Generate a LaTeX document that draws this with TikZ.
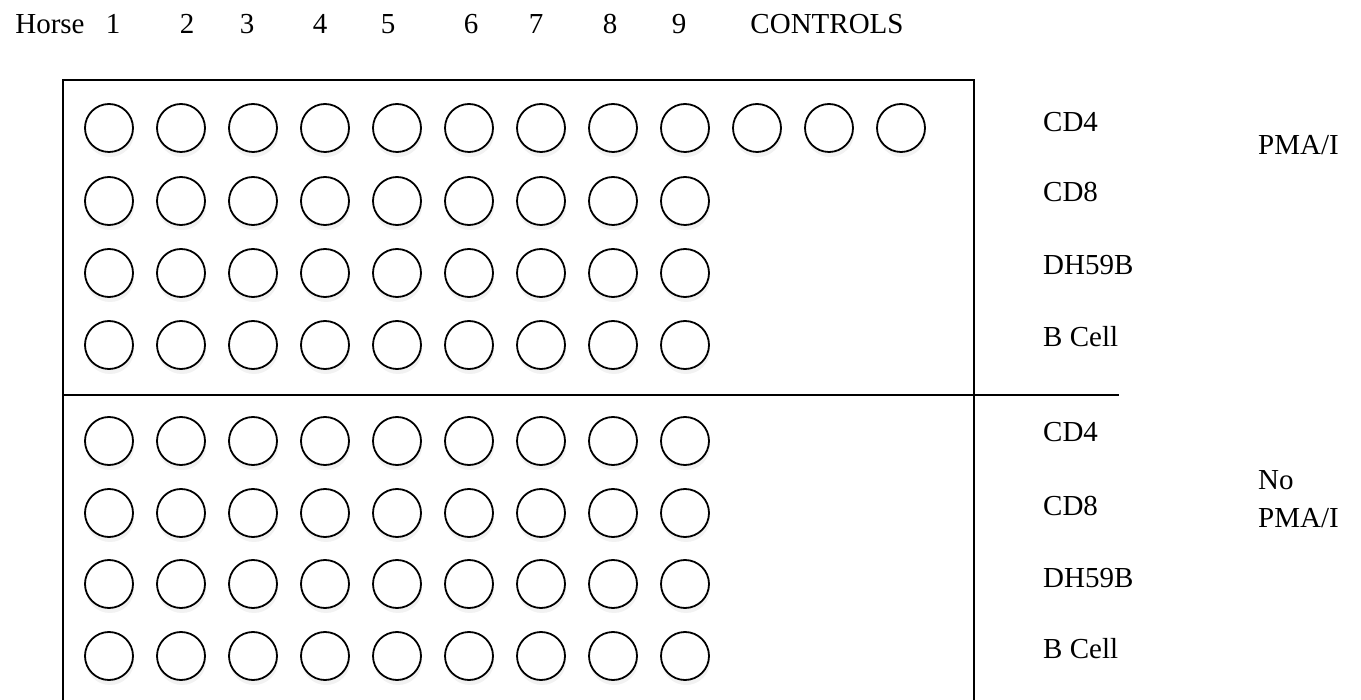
\documentclass[tikz,border=0pt]{standalone}
\usepackage{fontspec}
\setmainfont{Liberation Serif}
\usetikzlibrary{shadows}

\begin{document}
\begin{tikzpicture}[
  x=1pt, y=-1pt,
  font=\fontsize{29}{34}\selectfont,
  well/.style={
    circle,
    draw=black,
    line width=1.8pt,
    fill=white,
    minimum size=48pt,
    inner sep=0pt,
    drop shadow={shadow xshift=1pt, shadow yshift=-5pt, opacity=0.1}
  },
  head/.style={anchor=base, inner sep=0pt},
  lab/.style={anchor=base west, inner sep=0pt},
  plate/.style={line width=1.9pt, draw=black}
]
\clip (0,0) rectangle (1361,700);
\fill[white] (0,0) rectangle (1361,700);

% header row
\node[head] (horse) at (50,34) {Horse};
\foreach \n/\x in {1/113, 2/187, 3/247, 4/320, 5/388, 6/471, 7/536, 8/610, 9/679}
  \node[head] (h\n) at (\x,34) {\n};
\node[head] (hctrl) at (827,34) {CONTROLS};

% plate outline and divider
\coordinate (pbl) at (63,760);
\coordinate (ptl) at (63,80);
\coordinate (ptr) at (974,80);
\coordinate (pbr) at (974,760);
\coordinate (divl) at (63,395);
\coordinate (divr) at (1119,395);
\draw[plate] (pbl) -- (ptl) -- (ptr) -- (pbr);
\draw[plate, line width=1.5pt] (divl) -- (divr);

% wells, first row has the three controls
\foreach \c in {1,...,12}
  \node[well] (w1-\c) at ({109+72*(\c-1)},128) {};
\foreach \r/\y in {2/201, 3/273, 4/345, 5/441, 6/513, 7/584, 8/656}
  \foreach \c in {1,...,9}
    \node[well] (w\r-\c) at ({109+72*(\c-1)},\y) {};

% row labels
\node[lab] (cd4a) at (1043,132) {CD4};
\node[lab] (cd8a) at (1043,202) {CD8};
\node[lab] (dha) at (1043,275) {DH59B};
\node[lab] (bca) at (1043,347) {B Cell};
\node[lab] (cd4b) at (1043,442) {CD4};
\node[lab] (cd8b) at (1043,515) {CD8};
\node[lab] (dhb) at (1043,587) {DH59B};
\node[lab] (bcb) at (1043,658) {B Cell};

% treatment labels
\node[lab] (pma) at (1258,155) {PMA/I};
\node[lab] (nopma) at (1258,490) {No};
\node[lab] (nopmab) at (1258,528) {PMA/I};

\end{tikzpicture}
\end{document}
